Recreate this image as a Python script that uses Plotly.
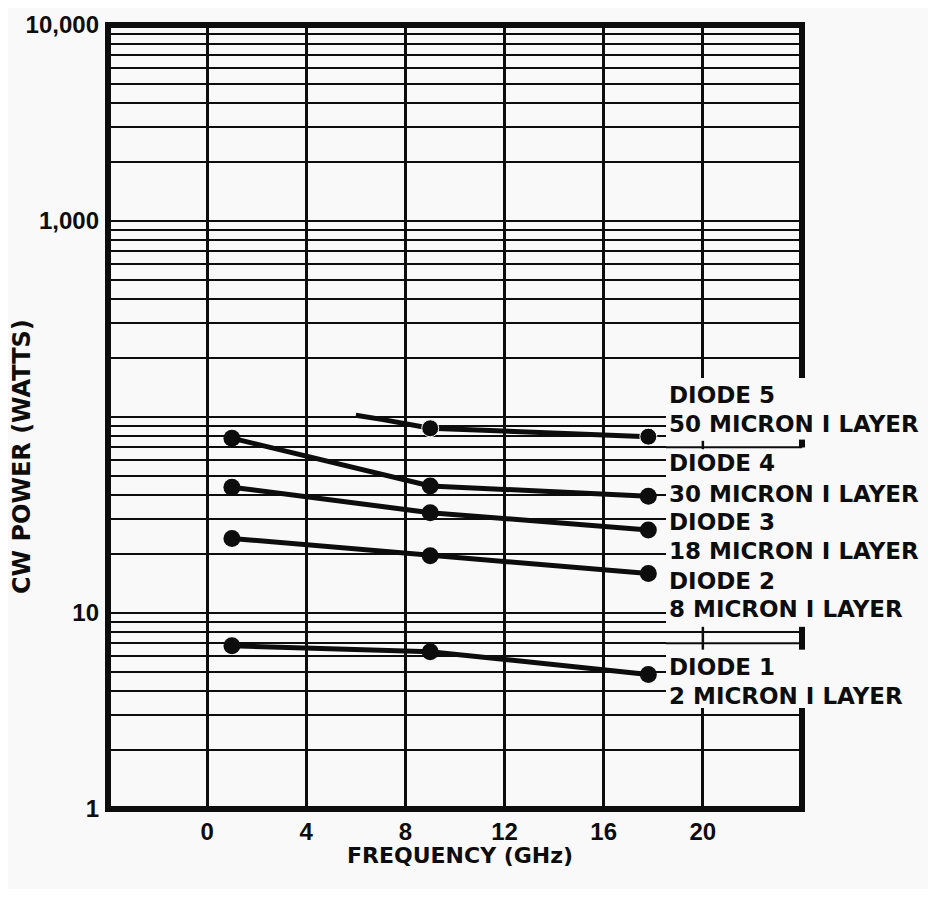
import math
import plotly.graph_objects as go

# ---------------- data ----------------
freq = [1, 9, 17.8]
diode1 = [6.8, 6.35, 4.85]
diode2 = [24.0, 19.6, 15.9]
diode3 = [43.8, 32.5, 26.5]
diode4 = [78.0, 44.5, 39.4]
diode5_freq = [6.0, 7.1, 9, 17.8]
diode5 = [102, 97, 87.6, 79.4]
diode5_marked = [False, False, True, True]

x_ticks = [0, 4, 8, 12, 16, 20]
y_labelled = {1: "1", 10: "10", 1000: "1,000", 10000: "10,000"}

label_lines = [
    "DIODE 5", "50 MICRON I LAYER",
    "DIODE 4", "30 MICRON I LAYER",
    "DIODE 3", "18 MICRON I LAYER",
    "DIODE 2", "8 MICRON I LAYER",
    "DIODE 1", "2 MICRON I LAYER",
]
label_px_y = [395, 424, 463, 494, 522, 551, 581, 609, 667, 696]

x_title = "FREQUENCY (GHz)"
y_title = "CW POWER (WATTS)"

# ---------------- geometry (page has an 8px body margin) ----------------
OFF = 8
PL, PT, PW, PH = 108, 25, 694, 784       # plot area in page pixels
W, H = 936 - 2 * OFF, 897 - 2 * OFF
ML, MT = PL - OFF, PT - OFF
MR = W - ML - PW
MB = H - MT - PH
XMIN, XMAX = -4, 24
BG = "#f9f9f9"
INK = "#0d0d0d"
FONT = "DejaVu Sans"
TICKFONT = "Liberation Sans"


def py(p):   # page pixel y -> paper
    return (PT + PH - p) / PH


def pxp(p):  # page pixel x -> paper
    return (p - PL) / PW


def xd(x):
    return (x - XMIN) / (XMAX - XMIN)


def yd(v):
    return math.log10(v) / 4.0


y_grid = []
for k in range(0, 4):
    for m in range(1, 10):
        y_grid.append(m * 10 ** k)
y_grid.append(10000)
y_text = [y_labelled.get(v, "") for v in y_grid]

fig = go.Figure()

for s in [diode1, diode2, diode3, diode4]:
    fig.add_trace(go.Scatter(
        x=freq, y=s, mode="lines+markers",
        line=dict(color=INK, width=5),
        marker=dict(color=INK, size=17, opacity=1),
        showlegend=False, cliponaxis=False,
    ))

fig.add_trace(go.Scatter(
    x=diode5_freq, y=diode5, mode="lines+markers",
    line=dict(color=INK, width=5),
    marker=dict(color=INK, opacity=1, size=[17 if m else 0 for m in diode5_marked]),
    showlegend=False, cliponaxis=False,
))

shapes = []
shapes.append(dict(type="rect", xref="paper", yref="paper", x0=0, x1=1, y0=0, y1=1,
                   line=dict(color=INK, width=6), layer="above"))
blk_x0 = pxp(666)
shapes.append(dict(type="rect", xref="paper", yref="paper",
                   x0=blk_x0, x1=1.03, y0=py(708), y1=py(378),
                   fillcolor=BG, line=dict(width=0), layer="above"))
for v in [70, 8, 7]:
    shapes.append(dict(type="line", xref="paper", yref="paper",
                       x0=blk_x0, x1=1, y0=yd(v), y1=yd(v),
                       line=dict(color=INK, width=2), layer="above"))
shapes.append(dict(type="line", xref="paper", yref="paper", x0=xd(20), x1=xd(20),
                   y0=yd(68.5), y1=yd(75.6), line=dict(color=INK, width=2.5), layer="above"))
shapes.append(dict(type="line", xref="paper", yref="paper", x0=1, x1=1,
                   y0=yd(69.9), y1=yd(76.7), line=dict(color=INK, width=6), layer="above"))
shapes.append(dict(type="line", xref="paper", yref="paper", x0=xd(20), x1=xd(20),
                   y0=yd(6.5), y1=yd(8.5), line=dict(color=INK, width=2.5), layer="above"))
shapes.append(dict(type="line", xref="paper", yref="paper", x0=1, x1=1,
                   y0=yd(6.5), y1=yd(8.5), line=dict(color=INK, width=6), layer="above"))

annotations = []
for txt, p in zip(label_lines, label_px_y):
    annotations.append(dict(
        text=txt, xref="paper", yref="paper", x=pxp(667), y=py(p),
        xanchor="left", yanchor="middle", showarrow=False,
        font=dict(family=FONT, size=23, color=INK, weight="bold"),
    ))
annotations.append(dict(
    text=x_title, xref="paper", yref="paper", x=pxp(460), y=py(856),
    xanchor="center", yanchor="middle", showarrow=False,
    font=dict(family=FONT, size=22, color=INK, weight="bold"),
))
annotations.append(dict(
    text=y_title, xref="paper", yref="paper", x=pxp(22), y=py(457),
    xanchor="center", yanchor="middle", showarrow=False, textangle=-90,
    font=dict(family=FONT, size=24, color=INK, weight="bold"),
))

fig.update_layout(
    width=W, height=H,
    margin=dict(l=ML, r=MR, t=MT, b=MB, pad=0, autoexpand=False),
    paper_bgcolor=BG, plot_bgcolor=BG,
    shapes=shapes, annotations=annotations,
    xaxis=dict(
        range=[XMIN, XMAX], tickvals=x_ticks, ticktext=[str(t) for t in x_ticks],
        showgrid=True, gridcolor=INK, gridwidth=2.5, zeroline=False,
        showline=False, ticks="", ticklabelstandoff=6, automargin=False,
        tickfont=dict(family=TICKFONT, size=24, color=INK, weight="bold"),
    ),
    yaxis=dict(
        type="log", range=[0, 4], tickvals=y_grid, ticktext=y_text,
        showgrid=True, gridcolor=INK, gridwidth=2, zeroline=False,
        showline=False, ticks="", ticklabelstandoff=8, automargin=False,
        tickfont=dict(family=TICKFONT, size=24, color=INK, weight="bold"),
    ),
)

fig.write_html("out.html")
